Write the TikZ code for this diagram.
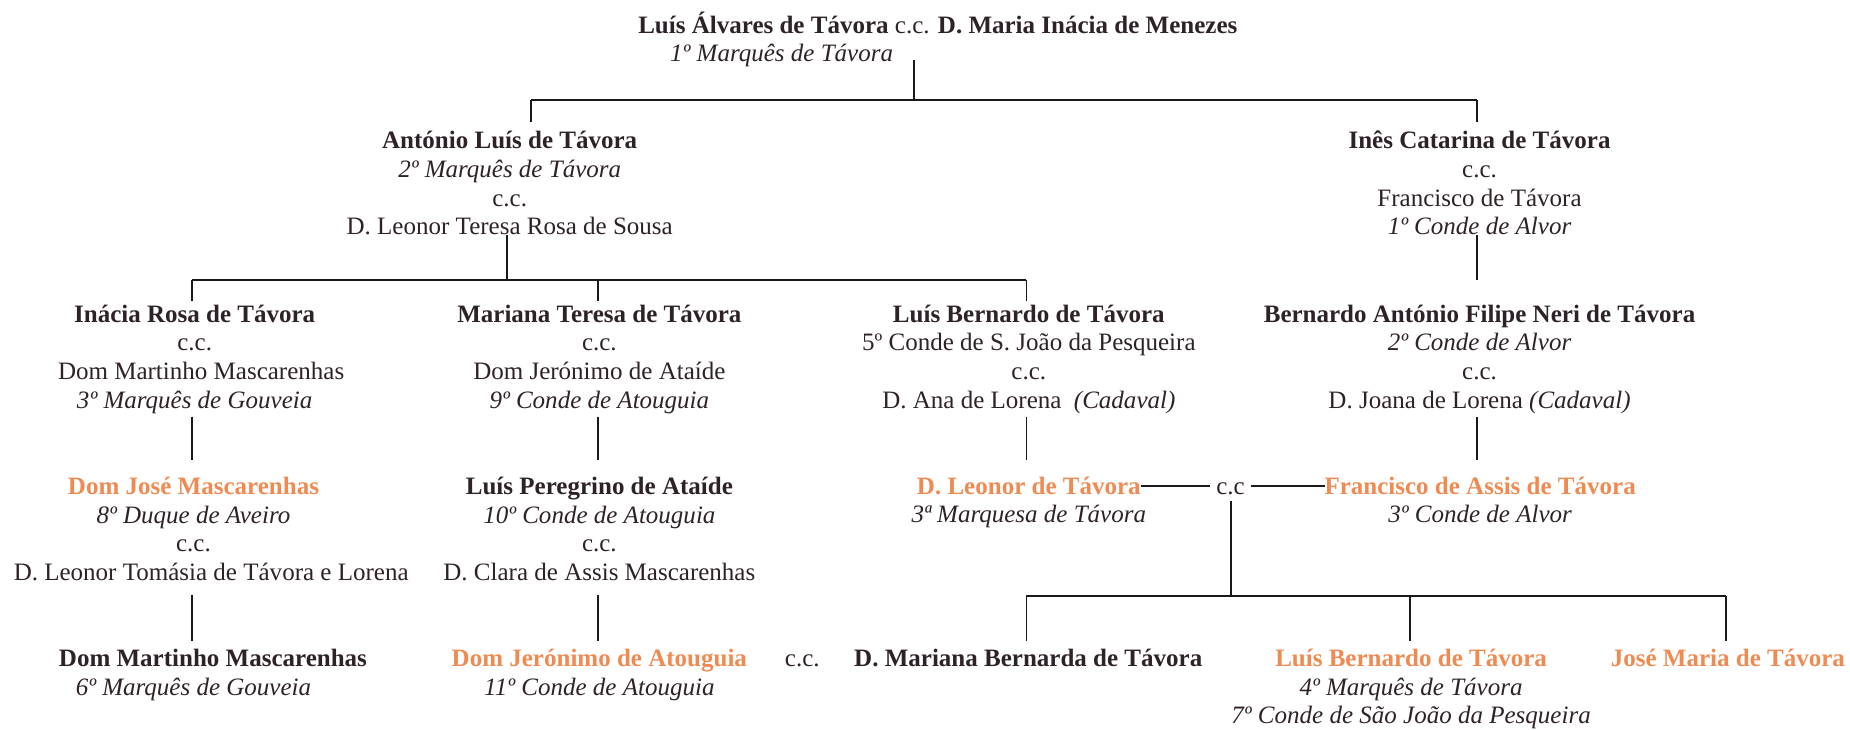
\documentclass[tikz,border=0pt]{standalone}
\usepackage{fontspec}
\setmainfont{Liberation Serif}
\definecolor{ink}{HTML}{2E2229}
\definecolor{orng}{HTML}{EE8A52}
\newcommand{\hl}[1]{\textcolor{orng}{\textbf{#1}}}
\newcommand{\stack}[1]{\begin{tabular}[t]{@{}c@{}}#1\end{tabular}}
\newcommand{\lstack}[1]{\begin{tabular}[t]{@{}l@{}}#1\end{tabular}}
\begin{document}
\begin{tikzpicture}[x=1pt,y=-1pt,
  every node/.style={inner sep=0pt, outer sep=0pt, text=ink, font=\fontsize{21.2}{24.3}\selectfont},
  person/.style={anchor=base},
  link/.style={draw=black!90, line width=1.6pt}]
\useasboundingbox (0,0) rectangle (1568,618);
% top couple
\node[anchor=base west] (top) at (541,28) {\lstack{\textbf{Luís Álvares de Távora} c.c. \textbf{D. Maria Inácia de Menezes}\\\hspace*{27pt}\textit{1º Marquês de Távora}}};
% row 2
\node[person] (ant) at (432,126) {\stack{\textbf{António Luís de Távora}\\\textit{2º Marquês de Távora}\\c.c.\\D. Leonor Teresa Rosa de Sousa}};
\node[person] (ines) at (1254,126) {\stack{\textbf{Inês Catarina de Távora}\\c.c.\\Francisco de Távora\\\textit{1º Conde de Alvor}}};
% row 3
\node[person] (ina) at (165,273) {\stack{\textbf{Inácia Rosa de Távora}\\c.c.\\\hspace*{11pt}Dom Martinho Mascarenhas\\\textit{3º Marquês de Gouveia}}};
\node[person] (mar) at (508,273) {\stack{\textbf{Mariana Teresa de Távora}\\c.c.\\Dom Jerónimo de Ataíde\\\textit{9º Conde de Atouguia}}};
\node[person] (lb) at (872,273) {\stack{\textbf{Luís Bernardo de Távora}\\5º Conde de S. João da Pesqueira\\c.c.\\D. Ana de Lorena\ \ \textit{(Cadaval)}}};
\node[person] (ber) at (1254,273) {\stack{\textbf{Bernardo António Filipe Neri de Távora}\\\textit{2º Conde de Alvor}\\c.c.\\D. Joana de Lorena \textit{(Cadaval)}}};
% row 4
\node[person] (jose) at (164,419) {\stack{\hl{Dom José Mascarenhas}\\\textit{8º Duque de Aveiro}\\c.c.\\\hspace*{30pt}D. Leonor Tomásia de Távora e Lorena}};
\node[person] (lper) at (508,419) {\stack{\textbf{Luís Peregrino de Ataíde}\\\textit{10º Conde de Atouguia}\\c.c.\\D. Clara de Assis Mascarenhas}};
\node[person] (leo) at (872,419) {\hl{D. Leonor de Távora}};
\node[person] (leot) at (872,443) {\textit{3ª Marquesa de Távora}};
\node[anchor=base, inner sep=5pt] (cc) at (1043,419) {c.c};
\node[person] (fra) at (1254.5,419) {\hl{Francisco de Assis de Távora}};
\node[person] (frat) at (1254.5,443) {\textit{3º Conde de Alvor}};
% row 5
\node[person] (dmm) at (164,565) {\stack{\hspace*{33pt}\textbf{Dom Martinho Mascarenhas}\\\textit{6º Marquês de Gouveia}}};
\node[person] (djer) at (508,565) {\stack{\hl{Dom Jerónimo de Atouguia}\\\textit{11º Conde de Atouguia}}};
\node[person] (cc2) at (680,565) {c.c.};
\node[person] (mb) at (871.5,565) {\textbf{D. Mariana Bernarda de Távora}};
\node[person] (lbt) at (1196,565) {\stack{\hl{Luís Bernardo de Távora}\\\textit{4º Marquês de Távora}\\\textit{7º Conde de São João da Pesqueira}}};
\node[person] (jm) at (1464.5,565) {\hl{José Maria de Távora}};
% junction coordinates
\coordinate (b1) at (775,85);
\coordinate (b1l) at (450,85);
\coordinate (b1r) at (1252,85);
\coordinate (b2) at (430,237);
\coordinate (b2a) at (163,237);
\coordinate (b2b) at (507,237);
\coordinate (b2c) at (870,237);
\coordinate (b2r) at (1252,237);
\coordinate (b4) at (1043,505);
\coordinate (b4a) at (870,505);
\coordinate (b4b) at (1195,505);
\coordinate (b4c) at (1463,505);
% generation 1 -> 2
\draw[link] ([yshift=9pt]b1 |- top.south) -- (b1);
\draw[link] (b1l) -- (b1r);
\draw[link] (b1l) -- ([yshift=23pt]b1l |- ant.base);
\draw[link] (b1r) -- ([yshift=23pt]b1r |- ines.base);
% generation 2 -> 3
\draw[link] ([yshift=7pt]b2 |- ant.south) -- (b2);
\draw[link] (b2a) -- (b2c);
\draw[link] (b2a) -- ([yshift=18pt]b2a |- ina.base);
\draw[link] (b2b) -- ([yshift=18pt]b2b |- mar.base);
\draw[link] (b2c) -- ([yshift=18pt]b2c |- lb.base);
\draw[link] ([yshift=7pt]b2r |- ines.south) -- (b2r);
% generation 3 -> 4
\draw[link] (b2a |- ina.south) -- ([yshift=29pt]b2a |- jose.base);
\draw[link] (b2b |- mar.south) -- ([yshift=29pt]b2b |- lper.base);
\draw[link] (b2c |- lb.south) -- ([yshift=29pt]b2c |- leo.base);
\draw[link] (b2r |- ber.south) -- ([yshift=29pt]b2r |- fra.base);
% generation 4 -> 5
\draw[link] ([yshift=-5pt]b2a |- jose.south) -- ([yshift=22pt]b2a |- dmm.base);
\draw[link] ([yshift=-5pt]b2b |- lper.south) -- ([yshift=22pt]b2b |- djer.base);
\draw[link] (leo.east) -- (leo.east -| cc.west);
\draw[link] (cc.east |- fra.west) -- (fra.west);
\draw[link] (cc.south) -- (b4);
\draw[link] (b4a) -- (b4c);
\draw[link] (b4a) -- ([yshift=22pt]b4a |- mb.base);
\draw[link] (b4b) -- ([yshift=22pt]b4b |- lbt.base);
\draw[link] (b4c) -- ([yshift=22pt]b4c |- jm.base);
\end{tikzpicture}
\end{document}
